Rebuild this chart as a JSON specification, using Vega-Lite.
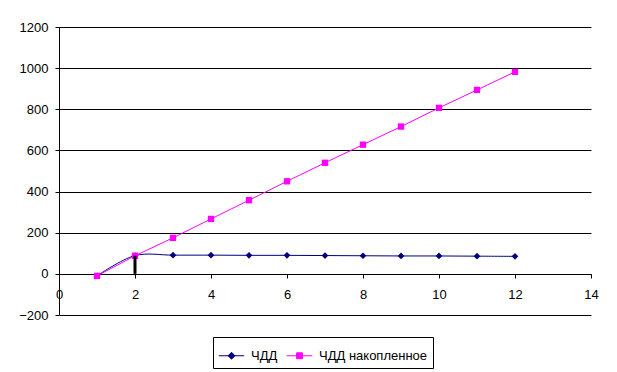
{
  "$schema": "https://vega.github.io/schema/vega-lite/v6.json",
  "width": 532,
  "height": 288,
  "autosize": "none",
  "padding": {"left": 59, "top": 27, "right": 26, "bottom": 57},
  "background": "white",
  "datasets": {
    "npv": [
      {"x": 1, "series": "ЧДД", "value": -10},
      {"x": 2, "series": "ЧДД", "value": 89},
      {"x": 3, "series": "ЧДД", "value": 91},
      {"x": 4, "series": "ЧДД", "value": 91},
      {"x": 5, "series": "ЧДД", "value": 90},
      {"x": 6, "series": "ЧДД", "value": 90},
      {"x": 7, "series": "ЧДД", "value": 89},
      {"x": 8, "series": "ЧДД", "value": 88},
      {"x": 9, "series": "ЧДД", "value": 87},
      {"x": 10, "series": "ЧДД", "value": 87},
      {"x": 11, "series": "ЧДД", "value": 86},
      {"x": 12, "series": "ЧДД", "value": 85},
      {"x": 1, "series": "ЧДД накопленное", "value": -10},
      {"x": 2, "series": "ЧДД накопленное", "value": 88},
      {"x": 3, "series": "ЧДД накопленное", "value": 175},
      {"x": 4, "series": "ЧДД накопленное", "value": 267},
      {"x": 5, "series": "ЧДД накопленное", "value": 358},
      {"x": 6, "series": "ЧДД накопленное", "value": 450},
      {"x": 7, "series": "ЧДД накопленное", "value": 540},
      {"x": 8, "series": "ЧДД накопленное", "value": 628},
      {"x": 9, "series": "ЧДД накопленное", "value": 716},
      {"x": 10, "series": "ЧДД накопленное", "value": 807},
      {"x": 11, "series": "ЧДД накопленное", "value": 894},
      {"x": 12, "series": "ЧДД накопленное", "value": 982}
    ],
    "bar": [
      {"x": 2, "lo": 0, "hi": 88}
    ]
  },
  "encoding": {
    "x": {
      "field": "x",
      "type": "quantitative",
      "scale": {"domain": [0, 14], "nice": false, "zero": false},
      "axis": {
        "title": null,
        "values": [0, 2, 4, 6, 8, 10, 12, 14],
        "format": "d",
        "grid": false,
        "offset": -41,
        "tickSize": 4,
        "labelPadding": 10,
        "labelFlush": false
      }
    },
    "y": {
      "field": "value",
      "type": "quantitative",
      "scale": {"domain": [-200, 1200], "nice": false, "zero": false},
      "axis": {
        "title": null,
        "values": [-200, 0, 200, 400, 600, 800, 1000, 1200],
        "format": "d",
        "grid": true,
        "tickSize": 4,
        "labelPadding": 7
      }
    }
  },
  "layer": [
    {
      "data": {"name": "npv"},
      "transform": [{"filter": "datum.series == 'ЧДД'"}],
      "mark": {"type": "line", "color": "#000080", "strokeWidth": 1, "interpolate": "catmull-rom"},
      "encoding": {}
    },
    {
      "data": {"name": "npv"},
      "transform": [{"filter": "datum.series == 'ЧДД'"}],
      "mark": {"type": "point", "shape": "diamond", "filled": true, "color": "#000080", "opacity": 1, "size": 45},
      "encoding": {}
    },
    {
      "data": {"name": "npv"},
      "transform": [{"filter": "datum.series == 'ЧДД накопленное'"}],
      "mark": {"type": "line", "color": "#FF00FF", "strokeWidth": 1},
      "encoding": {}
    },
    {
      "data": {"name": "npv"},
      "transform": [{"filter": "datum.series == 'ЧДД накопленное'"}],
      "mark": {"type": "point", "shape": "square", "filled": true, "color": "#FF00FF", "opacity": 1, "size": 40},
      "encoding": {}
    },
    {
      "data": {"name": "bar"},
      "mark": {"type": "rule", "color": "black", "strokeWidth": 3},
      "encoding": {
        "y": {"field": "lo", "type": "quantitative"},
        "y2": {"field": "hi"}
      }
    },
    {
      "data": {"name": "npv"},
      "transform": [{"filter": "false"}],
      "mark": {"type": "point", "filled": true, "opacity": 1, "strokeWidth": 1},
      "encoding": {
        "shape": {
          "field": "series",
          "type": "nominal",
          "scale": {
            "domain": ["ЧДД", "ЧДД накопленное"],
            "range": ["M-1,0H1M0,-0.27L0.27,0L0,0.27L-0.27,0Z", "M-1,0H1M-0.23,-0.23H0.23V0.23H-0.23Z"]
          },
          "legend": {
            "orient": "none",
            "legendX": 154,
            "legendY": 310,
            "direction": "horizontal",
            "title": null,
            "symbolSize": 650,
            "symbolStrokeWidth": 1,
            "labelFont": "Liberation Sans",
            "labelFontSize": 13,
            "labelColor": "black",
            "labelOffset": 6,
            "columnPadding": 6,
            "strokeColor": "black",
            "fillColor": "white",
            "padding": 5
          }
        },
        "fill": {
          "field": "series",
          "type": "nominal",
          "scale": {"domain": ["ЧДД", "ЧДД накопленное"], "range": ["#000080", "#FF00FF"]},
          "legend": {"orient": "none", "legendX": 154, "legendY": 310, "direction": "horizontal", "title": null}
        },
        "stroke": {
          "field": "series",
          "type": "nominal",
          "scale": {"domain": ["ЧДД", "ЧДД накопленное"], "range": ["#000080", "#FF00FF"]},
          "legend": {"orient": "none", "legendX": 154, "legendY": 310, "direction": "horizontal", "title": null}
        }
      }
    }
  ],
  "config": {
    "view": {"stroke": null},
    "axis": {
      "domainColor": "black",
      "tickColor": "black",
      "gridColor": "black",
      "gridOpacity": 1,
      "labelColor": "black",
      "labelFont": "Liberation Sans",
      "labelFontSize": 13
    }
  }
}
